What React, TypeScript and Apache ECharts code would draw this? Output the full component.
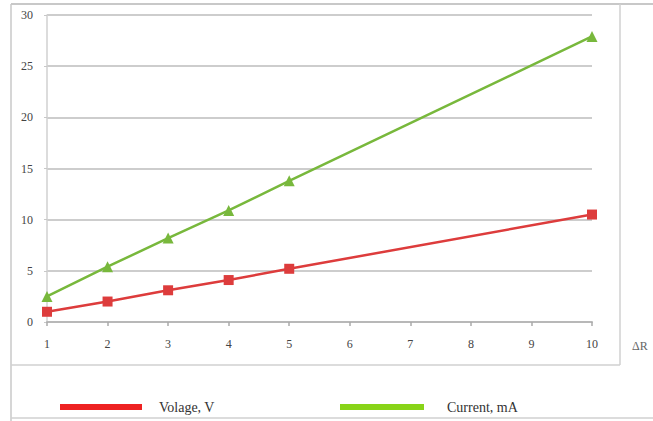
import React, { useEffect, useRef } from "react";
import * as echarts from "echarts";

const xValues = [1, 2, 3, 4, 5, 10];
const voltage = [1.0, 2.0, 3.1, 4.1, 5.2, 10.5];
const current = [2.5, 5.4, 8.2, 10.9, 13.8, 27.9];
const xTicks = [1, 2, 3, 4, 5, 6, 7, 8, 9, 10];
const seriesNames = ["Volage, V", "Current, mA"];
const xAxisName = "ΔR";

export default function App() {
  const ref = useRef<HTMLDivElement>(null);
  useEffect(() => {
    if (!ref.current) return;
    const chart = echarts.init(ref.current, undefined, { renderer: "svg" });
    const font = "'Liberation Serif', 'Times New Roman', serif";
    chart.setOption({
      animation: false,
      backgroundColor: "#ffffff",
      grid: { left: 47, right: 61, top: 15, bottom: 99, containLabel: false },
      xAxis: {
        type: "value",
        min: xTicks[0],
        max: xTicks[xTicks.length - 1],
        interval: 1,
        axisLine: { show: true, lineStyle: { color: "#b8b8b8", width: 2 } },
        axisTick: { show: true, length: 4, lineStyle: { color: "#aaa", width: 1.5 } },
        axisLabel: { fontFamily: font, fontSize: 12, color: "#444", margin: 16 },
        splitLine: { show: false },
      },
      yAxis: {
        type: "value",
        min: 0,
        max: 30,
        interval: 5,
        axisLine: { show: true, lineStyle: { color: "#d0d0d0", width: 1.5 } },
        axisTick: { show: true, length: 3, lineStyle: { color: "#c8c8c8" } },
        axisLabel: { fontFamily: font, fontSize: 12, color: "#444", margin: 14 },
        splitLine: { show: true, lineStyle: { color: "#cdcdcd", width: 2 } },
      },
      legend: [
        {
          left: 55,
          top: 395,
          icon: "rect",
          itemWidth: 82,
          itemHeight: 6,
          textStyle: { fontFamily: font, fontSize: 14, color: "#333", padding: [0, 0, 0, 12] },
          data: [{ name: seriesNames[0], itemStyle: { color: "#ee2222" } }],
        },
        {
          left: 335,
          top: 395,
          icon: "rect",
          itemWidth: 84,
          itemHeight: 6,
          textStyle: { fontFamily: font, fontSize: 14, color: "#333", padding: [0, 0, 0, 18] },
          data: [{ name: seriesNames[1], itemStyle: { color: "#88d418" } }],
        },
      ],
      graphic: [
        { type: "line", shape: { x1: 11, y1: 4, x2: 653, y2: 4 }, style: { stroke: "#c8c8c8", lineWidth: 2 } },
        { type: "line", shape: { x1: 11, y1: 4, x2: 11, y2: 421 }, style: { stroke: "#c8c8c8", lineWidth: 1.5 } },
        { type: "line", shape: { x1: 620, y1: 4, x2: 620, y2: 365 }, style: { stroke: "#d0d0d0", lineWidth: 1.5 } },
        { type: "line", shape: { x1: 11, y1: 365, x2: 620, y2: 365 }, style: { stroke: "#d0d0d0", lineWidth: 1.5 } },
        { type: "line", shape: { x1: 11, y1: 418, x2: 653, y2: 418 }, style: { stroke: "#d0d0d0", lineWidth: 1.5 } },
        {
          type: "text",
          x: 632,
          y: 346,
          style: { text: xAxisName, fontFamily: font, fontSize: 12, fill: "#666", verticalAlign: "middle", align: "left" },
        },
      ],
      series: [
        {
          name: seriesNames[0],
          type: "line",
          data: xValues.map((x, i) => [x, voltage[i]]),
          symbol: "rect",
          symbolSize: 10,
          lineStyle: { color: "#dd3c3c", width: 2.5 },
          itemStyle: { color: "#dd3c3c" },
        },
        {
          name: seriesNames[1],
          type: "line",
          data: xValues.map((x, i) => [x, current[i]]),
          symbol: "triangle",
          symbolSize: 11,
          lineStyle: { color: "#78b83c", width: 2.5 },
          itemStyle: { color: "#78b83c" },
        },
      ],
    });
    return () => chart.dispose();
  }, []);
  return <div ref={ref} style={{ width: 653, height: 421, position: "fixed", left: 0, top: 0 }} />;
}
